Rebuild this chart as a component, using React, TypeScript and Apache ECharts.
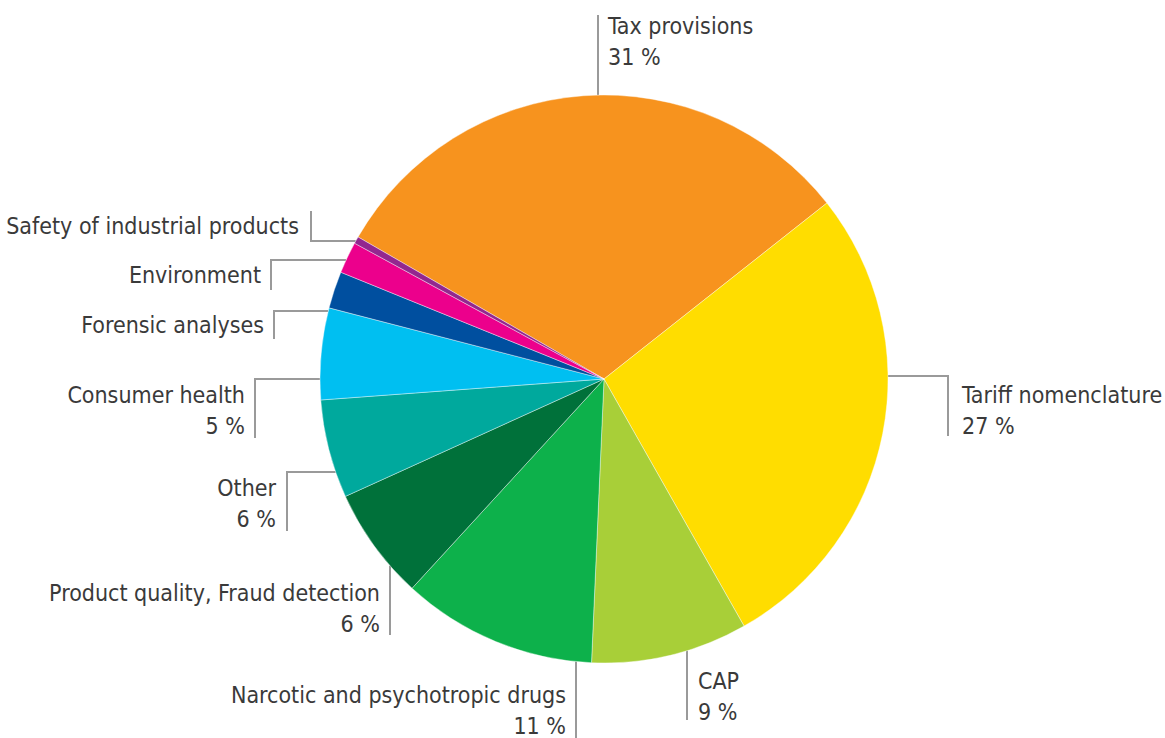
import React, { useEffect, useRef } from "react";
import * as echarts from "echarts";

// ---- data ----
const categories = [
  "Tax provisions",
  "Tariff nomenclature",
  "CAP",
  "Narcotic and psychotropic drugs",
  "Product quality, Fraud detection",
  "Other",
  "Consumer health",
  "Forensic analyses",
  "Environment",
  "Safety of industrial products",
];
const shares = [31.0, 27.4, 8.9, 11.1, 6.4, 5.6, 5.2, 2.1, 1.8, 0.4];
const withPercent = [true, true, true, true, true, true, true, false, false, false];
const sliceColors = [
  "#F7931E",
  "#FFDD00",
  "#A8CF38",
  "#0DB14B",
  "#00713A",
  "#00A99D",
  "#00BFF1",
  "#004F9F",
  "#EC008C",
  "#92278F",
];

// ---- layout (pixels) ----
const PIE_CX = 604;
const PIE_CY = 379;
const PIE_R = 284;

type Spec = {
  line: "v" | "h";
  at: number;
  elbow?: number;
  end: number;
  tx: number;
  ty: number;
  align: "left" | "right";
  vAlign: "top" | "middle";
};

const labelSpecs: Spec[] = [
  { line: "v", at: 598, end: 15, tx: 608, ty: 10, align: "left", vAlign: "top" },
  { line: "h", at: 376, elbow: 948, end: 436, tx: 962, ty: 379, align: "left", vAlign: "top" },
  { line: "v", at: 687, end: 720, tx: 698, ty: 665, align: "left", vAlign: "top" },
  { line: "v", at: 576, end: 738, tx: 566, ty: 679, align: "right", vAlign: "top" },
  { line: "v", at: 390, end: 635, tx: 380, ty: 577, align: "right", vAlign: "top" },
  { line: "h", at: 472, elbow: 287, end: 531, tx: 276, ty: 472, align: "right", vAlign: "top" },
  { line: "h", at: 379, elbow: 255, end: 438, tx: 245, ty: 379, align: "right", vAlign: "top" },
  { line: "h", at: 311, elbow: 274, end: 339, tx: 264, ty: 325, align: "right", vAlign: "middle" },
  { line: "h", at: 260, elbow: 271, end: 290, tx: 261, ty: 275, align: "right", vAlign: "middle" },
  { line: "h", at: 241, elbow: 311, end: 211, tx: 299, ty: 226, align: "right", vAlign: "middle" },
];

function linePoints(s: Spec): number[][] {
  if (s.line === "v") {
    const dy = Math.sqrt(Math.max(0, PIE_R * PIE_R - (s.at - PIE_CX) ** 2));
    const y0 = s.end < PIE_CY ? PIE_CY - dy : PIE_CY + dy;
    return [
      [s.at, y0],
      [s.at, y0],
      [s.at, s.end],
    ];
  }
  const dx = Math.sqrt(Math.max(0, PIE_R * PIE_R - (s.at - PIE_CY) ** 2));
  const el = s.elbow as number;
  const x0 = el < PIE_CX ? PIE_CX - dx : PIE_CX + dx;
  return [
    [x0, s.at],
    [el, s.at],
    [el, s.end],
  ];
}

const FONT = "'Liberation Sans Narrow', 'DejaVu Sans Condensed', Roboto, sans-serif";

export default function App() {
  const ref = useRef<HTMLDivElement>(null);
  useEffect(() => {
    if (!ref.current) return;
    const chart = echarts.init(ref.current, undefined, { renderer: "svg" });
    const data = categories.map((name, i) => ({
      name,
      value: shares[i],
      itemStyle: { color: sliceColors[i] },
    }));
    chart.setOption({
      animation: false,
      backgroundColor: "#ffffff",
      series: [
        {
          type: "pie",
          center: [PIE_CX, PIE_CY],
          radius: PIE_R,
          startAngle: 150,
          clockwise: true,
          avoidLabelOverlap: false,
          data,
          itemStyle: { borderColor: "#ffffff", borderWidth: 0.4 },
          emphasis: { disabled: true },
          label: {
            show: true,
            position: "outside",
            fontFamily: FONT,
            fontSize: 23,
            color: "#3a3a3a",
            lineHeight: 31,
            formatter: (p: any) =>
              withPercent[p.dataIndex]
                ? `${p.name}\n${Math.round(p.percent)} %`
                : p.name,
          },
          labelLine: {
            show: true,
            lineStyle: { color: "#9a9a9a", width: 2 },
          },
          labelLayout: (params: any) => {
            const s = labelSpecs[params.dataIndex];
            return {
              x: s.tx,
              y: s.ty,
              align: s.align,
              verticalAlign: s.vAlign,
              labelLinePoints: linePoints(s),
            };
          },
        },
      ],
    });
    return () => chart.dispose();
  }, []);
  return (
    <div
      ref={ref}
      style={{ position: "absolute", left: 0, top: 0, width: 1165, height: 738 }}
    />
  );
}
